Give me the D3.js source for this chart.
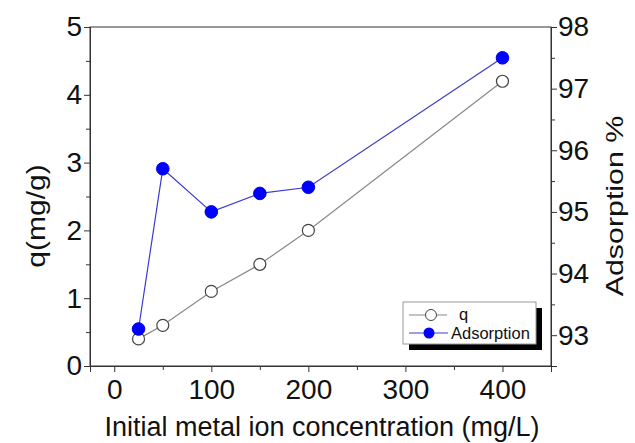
<!DOCTYPE html>
<html><head><meta charset="utf-8">
<script src="https://cdn.jsdelivr.net/npm/d3@7"></script>
<style>body{margin:0;background:#fff;} text{font-family:"Liberation Sans",Arial,sans-serif;}</style>
</head><body>
<svg id="c" width="635" height="443"></svg>
<script>
const conc = [25, 50, 100, 150, 200, 400];
const qVals = [0.4, 0.6, 1.1, 1.5, 2.0, 4.2];
const adsVals = [93.1, 95.7, 95.0, 95.3, 95.4, 97.5];
const xTicks = [0, 100, 200, 300, 400];
const yLeftTicks = [0, 1, 2, 3, 4, 5];
const yRightTicks = [93, 94, 95, 96, 97, 98];

const svg = d3.select("#c");
const L = 90, R = 551, T = 27, B = 366;
const x = d3.scaleLinear().domain([-25, 450]).range([L, R]);
const yL = d3.scaleLinear().domain([0, 5]).range([B, T]);
const yR = d3.scaleLinear().domain([92.5, 98]).range([B, T]);

// frame
svg.append("rect").attr("x", L).attr("y", T).attr("width", R - L).attr("height", B - T)
  .attr("fill", "none").attr("stroke", "#333").attr("stroke-width", 1);

const tc = "#333";
// x axis
svg.append("g").attr("transform", `translate(0,${B})`)
  .call(d3.axisBottom(x).tickValues(xTicks).tickSize(6).tickPadding(7).tickFormat(d3.format("d")));
svg.append("g").attr("transform", `translate(0,${B})`)
  .call(d3.axisBottom(x).tickValues([50,150,250,350,450]).tickSize(4).tickFormat(""));
// left
svg.append("g").attr("transform", `translate(${L},0)`)
  .call(d3.axisLeft(yL).tickValues(yLeftTicks).tickSize(6).tickPadding(2).tickFormat(d3.format("d")));
svg.append("g").attr("transform", `translate(${L},0)`)
  .call(d3.axisLeft(yL).tickValues([0.5,1.5,2.5,3.5,4.5]).tickSize(4).tickFormat(""));
// right
svg.append("g").attr("transform", `translate(${R},0)`)
  .call(d3.axisRight(yR).tickValues(yRightTicks).tickSize(6).tickPadding(1).tickFormat(d3.format("d")));
svg.append("g").attr("transform", `translate(${R},0)`)
  .call(d3.axisRight(yR).tickValues([92.5,93.5,94.5,95.5,96.5,97.5]).tickSize(4).tickFormat(""));

svg.selectAll(".domain").attr("stroke", tc);
svg.selectAll(".tick line").attr("stroke", tc);
svg.selectAll(".tick text").attr("font-size", 28).attr("fill", "#111")
  .attr("font-family", "'Liberation Sans',Arial,sans-serif");

// axis titles
svg.append("text").attr("x", 322).attr("y", 436).attr("text-anchor", "middle")
  .attr("font-size", 27).attr("fill", "#111").text("Initial metal ion concentration (mg/L)");
svg.append("text").attr("transform", `translate(45,216) rotate(-90) scale(1.2,1)`).attr("text-anchor", "middle")
  .attr("font-size", 25).attr("fill", "#111").text("q(mg/g)");
svg.append("text").attr("transform", `translate(623,206) rotate(-90) scale(1.32,1)`).attr("text-anchor", "middle")
  .attr("font-size", 23).attr("fill", "#111").text("Adsorption %");

// lines
const qData = conc.map((c, i) => [c, qVals[i]]);
const aData = conc.map((c, i) => [c, adsVals[i]]);
svg.append("path").datum(qData).attr("fill", "none").attr("stroke", "#888").attr("stroke-width", 1.2)
  .attr("d", d3.line().x(d => x(d[0])).y(d => yL(d[1])));
svg.append("path").datum(aData).attr("fill", "none").attr("stroke", "#3a3ad0").attr("stroke-width", 1.2)
  .attr("d", d3.line().x(d => x(d[0])).y(d => yR(d[1])));
svg.selectAll(".qp").data(qData).enter().append("circle")
  .attr("cx", d => x(d[0])).attr("cy", d => yL(d[1])).attr("r", 6)
  .attr("fill", "#fff").attr("stroke", "#444").attr("stroke-width", 1.2);
svg.selectAll(".ap").data(aData).enter().append("circle")
  .attr("cx", d => x(d[0])).attr("cy", d => yR(d[1])).attr("r", 6.3)
  .attr("fill", "#0000ff").attr("stroke", "#0000ee");

// legend
const lx = 403, ly = 302, lw = 133, lh = 42;
svg.append("rect").attr("x", lx + 6).attr("y", ly + 6).attr("width", lw).attr("height", lh).attr("fill", "#000");
svg.append("rect").attr("x", lx).attr("y", ly).attr("width", lw).attr("height", lh)
  .attr("fill", "#fff").attr("stroke", "#999").attr("stroke-width", 1);
svg.append("line").attr("x1", lx + 6).attr("x2", lx + 44).attr("y1", ly + 13).attr("y2", ly + 13).attr("stroke", "#888");
svg.append("circle").attr("cx", lx + 28).attr("cy", ly + 13).attr("r", 5.5).attr("fill", "#fff").attr("stroke", "#444");
svg.append("text").attr("x", lx + 56).attr("y", ly + 18).attr("font-size", 16.5).attr("fill", "#111").text("q");
svg.append("line").attr("x1", lx + 6).attr("x2", lx + 45).attr("y1", ly + 31).attr("y2", ly + 31).attr("stroke", "#3a3ad0");
svg.append("circle").attr("cx", lx + 26).attr("cy", ly + 31).attr("r", 5.5).attr("fill", "#0000ff");
svg.append("text").attr("x", lx + 48).attr("y", ly + 37).attr("font-size", 16.5).attr("fill", "#111").text("Adsorption");
</script>
</body></html>
